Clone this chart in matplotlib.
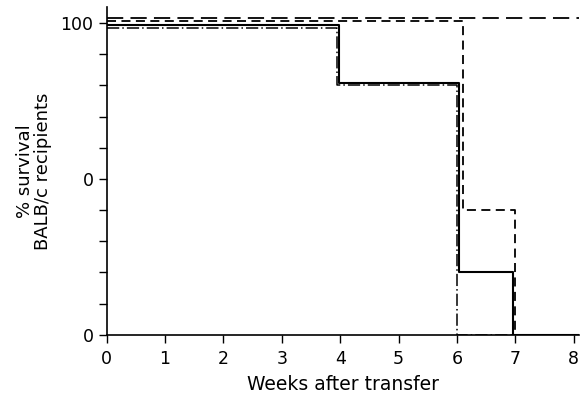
import matplotlib.pyplot as plt

# survival curves (weeks after transfer, % surviving)
weeks_a = [0, 8.1]
surv_a = [101.7, 101.7]

weeks_b = [0, 6.1, 7.0, 8.1]
surv_b = [100.7, 40, 0, 0]

weeks_c = [0, 3.98, 6.04, 6.97, 8.1]
surv_c = [99.4, 80.8, 20, 0, 0]

weeks_d = [0, 3.94, 6.0, 8.1]
surv_d = [98.5, 80.1, 0, 0]

x_ticks = [0, 1, 2, 3, 4, 5, 6, 7, 8]
y_ticks = [0, 10, 20, 30, 40, 50, 60, 70, 80, 90, 100]
y_labels = ['0', '', '', '', '', '0', '', '', '', '', '100']

plt.rcParams['font.family'] = 'DejaVu Sans'
fig = plt.figure(figsize=(5.8, 4.01), dpi=100)
ax = fig.add_axes([0.184, 0.165, 0.815, 0.818])

ax.step(weeks_a, surv_a, where='post', color='black', lw=1.3, dashes=(9, 4))
ax.step(weeks_b, surv_b, where='post', color='black', lw=1.3, dashes=(5, 3))
ax.step(weeks_c, surv_c, where='post', color='black', lw=1.5)
ax.step(weeks_d, surv_d, where='post', color='black', lw=1.1, dashes=(8, 2, 1, 2))

ax.set_xlim(0, 8.1)
ax.set_ylim(0, 105.2)
ax.set_xticks(x_ticks)
ax.set_yticks(y_ticks)
ax.set_yticklabels(y_labels)
ax.tick_params(direction='out', length=6, width=1, labelsize=12.5, color='black')
ax.tick_params(axis='x', pad=5)

for side in ['top', 'right']:
    ax.spines[side].set_visible(False)
for side in ['left', 'bottom']:
    ax.spines[side].set_linewidth(1.2)

ax.set_xlabel('Weeks after transfer', fontsize=13.5, labelpad=5)
ax.set_ylabel('% survival\nBALB/c recipients', fontsize=13, labelpad=6,
              linespacing=1.0)

fig.savefig('out.png', dpi=100)
